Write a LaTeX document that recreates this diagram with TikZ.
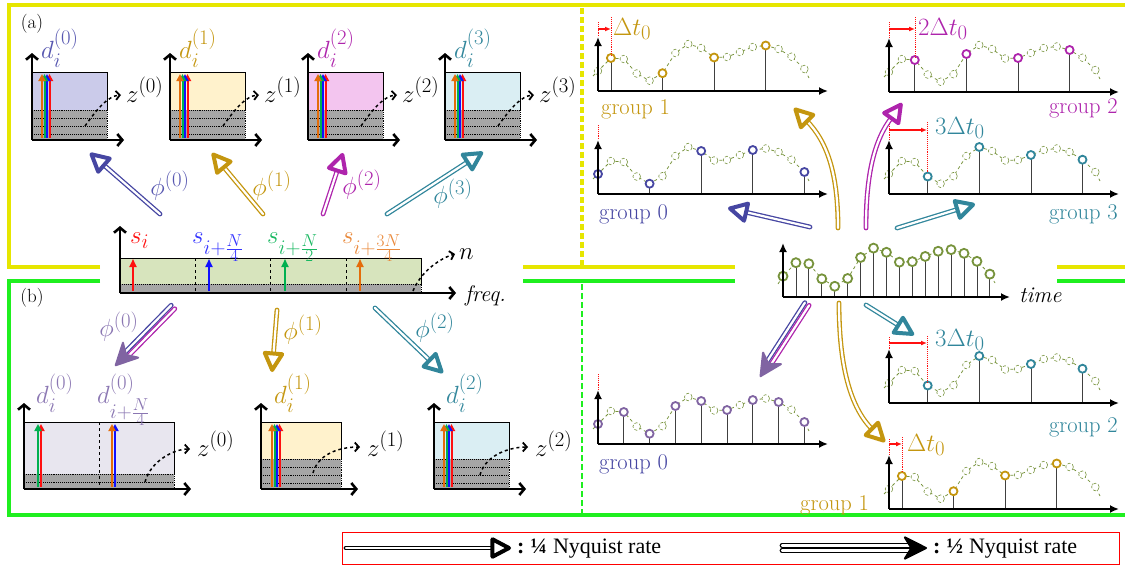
\documentclass[tikz,border=0pt]{standalone}
\usepackage{amsmath,amssymb}
\usepackage{fontspec}
\newfontfamily\legfont{Liberation Serif}
\usepackage{tikz}
\usetikzlibrary{arrows.meta,calc}
\definecolor{Yel}{HTML}{E6E600}
\definecolor{Grn}{HTML}{1FEF1F}
\definecolor{Slate}{HTML}{4646A2}
\definecolor{LabS}{HTML}{5656B0}
\definecolor{Gold}{HTML}{C4960F}
\definecolor{Mag}{HTML}{AE24AC}
\definecolor{Teal}{HTML}{31869B}
\definecolor{Purp}{HTML}{8064A2}
\definecolor{LabP}{HTML}{8A76B2}
\definecolor{Olive}{HTML}{77933C}
\definecolor{Lav}{HTML}{CBCBEA}
\definecolor{Cream}{HTML}{FFF2CC}
\definecolor{Pink}{HTML}{F3C5EF}
\definecolor{Ice}{HTML}{DAEEF3}
\definecolor{PaleLav}{HTML}{E8E6EF}
\definecolor{Sage}{HTML}{D7E4BD}
\definecolor{Gry}{HTML}{A6A6A6}
\definecolor{Rd}{HTML}{FF1010}
\definecolor{Bl}{HTML}{1010FF}
\definecolor{Gn}{HTML}{00B050}
\definecolor{Or}{HTML}{E46C0A}

% the sampled signal (height of each sample above the axis)
\def\sigvals{20,33,32,17.5,10.3,17.8,38,47,43,33.5,34,39,44,45.5,42,34.3,22}

% one coset of the signal: origin x, origin y, kept samples, colour
\newcommand{\subsig}[4]{%
  \draw[wave] ({#1-5},{#2-15}) \foreach \a [count=\k from 0] in \sigvals {-- ({#1+12.9*\k},{#2-\a})} -- ({#1+211},{#2-13});
  \foreach \a [count=\k from 0] in \sigvals
    \draw[wdot] ({#1+12.9*\k},{#2-\a}) circle (3.8pt);
  \foreach \k in {#3} {
    \pgfmathsetmacro\amp{{\sigvals}[\k]}
    \draw[stem] ({#1+12.9*\k},#2) -- ({#1+12.9*\k},{#2-\amp});
    \draw[samp=#4] ({#1+12.9*\k},{#2-\amp}) circle (4pt);
  }
  \draw[tax] (#1,#2) -- (#1,{#2-54});
  \draw[tax] (#1,#2) -- ({#1+230},#2);}

% spectrum box: x, bottom, top, top of gray part, width, fill, dotted rows
\newcommand{\dpanel}[7]{%
  \fill[#6] (#1,#3) rectangle ({#1+#5},#2);
  \fill[Gry] (#1,#4) rectangle ({#1+#5},#2);
  \draw[line width=0.7pt] (#1,#4) -- (#1,#3) -- ({#1+#5},#3) -- ({#1+#5},#4);
  \foreach \yy in {#7}
    \draw[gdot] (#1,\yy) -- ({#1+#5},\yy);
  \draw[gdot] ({#1+#5},#4) -- ({#1+#5},#2);
  \draw[dax] (#1,#2) -- (#1,{#3-19});
  \draw[dax] (#1,#2) -- ({#1+#5+17},#2);}

% bundle of aliased components
\newcommand{\rbow}[3]{%
  \foreach \dx/\c in {7.5/Rd,5/Bl,2.5/Gn,0/Or}
    \draw[\c, line width=2pt, -{Triangle[length=7pt,width=7pt]}] ({#1+\dx},{#2-2}) -- ({#1+\dx},#3);}

% 1/4 rate arrow: colour, from, to
\newcommand{\qarrow}[3]{%
  \draw[qshaft=#1] (#2) -- ($(#3)!15pt!(#2)$);
  \draw[qhead=#1] ($(#3)!20pt!(#2)$) -- (#3);}

% 1/2 rate arrow: from, to, head colour, two line colours
\newcommand{\harrow}[5]{%
  \coordinate (hb) at ($(#2)!15pt!(#1)$);
  \draw[qshaft=#4] ($(#1)!2.5pt!-90:(hb)$) -- ($(hb)!2.5pt!90:(#1)$);
  \draw[qshaft=#5] ($(#1)!2.5pt!90:(hb)$) -- ($(hb)!2.5pt!-90:(#1)$);
  \draw[hhead=#3] ($(#2)!18pt!(#1)$) -- (#2);}

\begin{document}
\begin{tikzpicture}[x=1pt,y=-1pt,
  dax/.style={line width=2.6pt, -{Straight Barb[length=5pt,width=12pt,line width=2.6pt]}},
  tax/.style={line width=2pt, -{Latex[length=9pt,width=8pt]}},
  zarr/.style={dashed, line width=1.5pt, -{Straight Barb[length=4pt,width=9pt,line width=1.8pt]}},
  gdot/.style={densely dotted, line width=0.9pt},
  qshaft/.style={draw=#1, line width=1.3pt, double=white, double distance=2.2pt, line cap=round},
  qhead/.style={#1, line width=4pt, -{Triangle[fill=white,length=23pt,width=23pt,line width=4pt,round]}},
  hhead/.style={#1, line width=2pt, -{Stealth[length=26pt,width=26pt,inset=8pt,line width=2pt,round]}},
  mlab/.style={font=\fontsize{24.88}{28}\selectfont, inner sep=0pt},
  glab/.style={font=\fontsize{22.5}{26}\selectfont, inner sep=0pt},
  legtext/.style={font=\legfont\fontsize{22}{24}\selectfont, inner sep=0pt},
  wave/.style={Olive, dashed, line width=0.8pt},
  wdot/.style={Olive, densely dashed, line width=0.6pt, fill=white},
  samp/.style={#1, line width=1.8pt, fill=white},
  stem/.style={black!75, line width=0.8pt},
  rline/.style={Rd, line width=1.2pt, -{Latex[length=6pt,width=5pt]}},
  rdot/.style={Rd, densely dotted, line width=0.9pt}]
\useasboundingbox (0,0) rectangle (1125,570);

% frames of (a) and (b)
\draw[Yel, line width=4pt] (100,267) -- (9,267) -- (9,5) -- (1125,5);
\draw[Yel, line width=4pt] (523,267) -- (735,267) (1057,267) -- (1125,267);
\draw[Grn, line width=4pt] (100,281) -- (9,281) -- (9,515) -- (1125,515);
\draw[Grn, line width=4pt] (523,281) -- (735,281) (1057,281) -- (1125,281);
\draw[Yel, line width=3.5pt, dash pattern=on 6pt off 3pt] (582,8) -- (582,265);
\draw[Grn, line width=2.5pt, dash pattern=on 6pt off 3pt] (582,284) -- (582,513);
\node[font=\fontsize{19}{21}\selectfont, inner sep=0pt] (la) at (32,24) {(a)};
\node[font=\fontsize{19}{21}\selectfont, inner sep=0pt] (lb) at (32,298) {(b)};

% (a) spectra after 1/4 rate sampling
\foreach \x/\f/\c/\k in {32/Lav/LabS/0,170/Cream/Gold/1,308/Pink/Mag/2,445/Ice/Teal/3} {
  \dpanel{\x}{140}{72}{110}{75}{\f}{110,118,126,134}
  \rbow{\x+10}{140}{74}
  \coordinate (zs\k) at (\x+53,126);
  \coordinate (ze\k) at (\x+89,95);
  \draw[zarr] (zs\k) .. controls +(12,-17) and +(-13,1) .. (ze\k);
  \node[mlab, text=\c, anchor=base west] (d\k) at (\x+9,58) {$d_i^{(\k)}$};
  \node[mlab, anchor=base west] (z\k) at (\x+94,102) {$z^{(\k)}$};
}

% original spectrum
\fill[Sage] (120,258) rectangle (421,293);
\fill[Gry] (120,284) rectangle (421,293);
\draw[line width=0.7pt] (120,258) -- (421,258) -- (421,284);
\draw[gdot] (120,284) -- (421,284) -- (421,293);
\foreach \x in {195,270,346}
  \draw[dashed, line width=0.9pt] (\x,258) -- (\x,293);
\foreach \x/\c in {133/Rd,209/Bl,285/Gn,360/Or}
  \draw[\c, line width=1.8pt, -{Triangle[length=8pt,width=7pt]}] (\x,291) -- (\x,259);
\draw[dax] (120,293) -- (120,226);
\draw[dax] (120,293) -- (456,293);
\coordinate (ns) at (413,291);
\coordinate (ne) at (455,254);
\draw[zarr] (ns) .. controls +(8,-20) and +(-14,4) .. (ne);
\node[mlab, text=Rd, anchor=base west] (s0) at (130,243) {$s_i$};
\node[mlab, text=Bl!85, anchor=base west] (s1) at (192,243) {$s_{i+\frac{N}{4}}$};
\node[mlab, text=Gn!90, anchor=base west] (s2) at (267,243) {$s_{i+\frac{N}{2}}$};
\node[mlab, text=Or!80, anchor=base west] (s3) at (342,243) {$s_{i+\frac{3N}{4}}$};
\node[mlab, anchor=base west] (nn) at (459,259) {$n$};
\node[glab, anchor=base west] (fq) at (465,301) {\itshape freq.};

% (a) phi arrows
\foreach \c/\fx/\fy/\tx/\ty/\k in {Slate/160/214/90/153/0,Gold/263/214/212/153/1,Mag/323/214/343/153/2,Teal/387/214/483/152/3} {
  \coordinate (pf\k) at (\fx,\fy);
  \coordinate (pt\k) at (\tx,\ty);
  \qarrow{\c}{pf\k}{pt\k}
}
\node[mlab, text=LabS] (p0) at (170,186) {$\phi^{(0)}$};
\node[mlab, text=Gold] (p1) at (272,186) {$\phi^{(1)}$};
\node[mlab, text=Mag] (p2) at (362,185) {$\phi^{(2)}$};
\node[mlab, text=Teal] (p3) at (453,194) {$\phi^{(3)}$};

% (b) spectra after mixed rate sampling
\dpanel{24}{489}{422}{474}{150}{PaleLav}{474,482}
\draw[dashed, line width=0.9pt] (99,422) -- (99,489);
\foreach \x/\c in {41/Rd,38/Gn,115/Bl,112/Or}
  \draw[\c, line width=2.2pt, -{Triangle[length=7pt,width=7pt]}] (\x,487) -- (\x,424);
\dpanel{261}{489}{422}{459}{80}{Cream}{459,467,475,483}
\rbow{272}{489}{424}
\dpanel{434}{489}{422}{459}{75}{Ice}{459,467,475,483}
\rbow{444}{489}{424}
\foreach \sx/\sy/\ex/\ey/\k in {145/482/190/449/0,313/473/360/447/1,480/475/528/447/2} {
  \coordinate (ys\k) at (\sx,\sy);
  \coordinate (ye\k) at (\ex,\ey);
  \draw[zarr] (ys\k) .. controls +(6,-22) and +(-15,0) .. (ye\k);
}
\node[mlab, text=LabP, anchor=base west] (db0) at (36,403) {$d_i^{(0)}$};
\node[mlab, text=LabP, anchor=base west] (db4) at (97,403) {$d_{i+\frac{N}{4}}^{(0)}$};
\node[mlab, text=Gold, anchor=base west] (db1) at (274,403) {$d_i^{(1)}$};
\node[mlab, text=Teal, anchor=base west] (db2) at (446,403) {$d_i^{(2)}$};
\node[mlab, anchor=base west] (zb0) at (197,456) {$z^{(0)}$};
\node[mlab, anchor=base west] (zb1) at (367,456) {$z^{(1)}$};
\node[mlab, anchor=base west] (zb2) at (535,456) {$z^{(2)}$};

% (b) phi arrows
\coordinate (qf0) at (173,307); \coordinate (qt0) at (115,366);
\harrow{qf0}{qt0}{Purp}{Slate}{Mag}
\coordinate (qf1) at (277,310); \coordinate (qt1) at (272,372);
\qarrow{Gold}{qf1}{qt1}
\coordinate (qf2) at (375,308); \coordinate (qt2) at (443,373);
\qarrow{Teal}{qf2}{qt2}
\node[mlab, text=LabP] (q0) at (119,327) {$\phi^{(0)}$};
\node[mlab, text=Gold] (q1) at (303,330) {$\phi^{(1)}$};
\node[mlab, text=Teal] (q2) at (435,328) {$\phi^{(2)}$};

% full rate signal
\draw[wave] (778,284) \foreach \a [count=\k from 0] in \sigvals {-- ({783+12.93*\k},{297-1.04*\a})} -- (995,283);
\foreach \a [count=\k from 0] in \sigvals {
  \draw[stem] ({783+12.93*\k},297) -- ({783+12.93*\k},{297-1.04*\a});
  \draw[samp=Olive] ({783+12.93*\k},{297-1.04*\a}) circle (4.5pt);
}
\draw[tax] (783,297) -- (783,243);
\draw[tax] (783,297) -- (1010,297);
\node[glab, anchor=base west] (tm) at (1019,302) {\itshape time};

% cosets, (a)
\subsig{598}{91}{1,5,9,13}{Gold}
\subsig{598}{194}{0,4,8,12,16}{Slate}
\subsig{889}{92}{2,6,10,14}{Mag}
\subsig{889}{194}{3,7,11,15}{Teal}
% cosets, (b)
\subsig{598}{444}{0,2,...,16}{Purp}
\subsig{889}{403}{3,7,11,15}{Teal}
\subsig{889}{509}{1,5,9,13}{Gold}

% delays
\draw[rdot] (598,22) -- (598,37);
\draw[rdot] (611,17) -- (611,56);
\draw[rline] (598,29) -- (611,29);
\draw[rdot] (889,22) -- (889,38);
\draw[rdot] (915,17) -- (915,57);
\draw[rline] (889,29) -- (915,29);
\draw[rdot] (598,125) -- (598,140);
\draw[rdot] (889,124) -- (889,140);
\draw[rdot] (927,122) -- (927,172);
\draw[rline] (889,130) -- (927,130);
\draw[rdot] (889,337) -- (889,349);
\draw[rdot] (927,336) -- (927,382);
\draw[rline] (889,343) -- (927,343);
\draw[rdot] (889,439) -- (889,455);
\draw[rdot] (902,437) -- (902,473);
\draw[rline] (889,444) -- (902,444);
\draw[rdot] (598,374) -- (598,390);

\node[mlab, text=Gold, anchor=base west] (dt1a) at (613,35) {$\Delta t_0$};
\node[mlab, text=Mag, anchor=base west] (dt2a) at (918,35) {$2\Delta t_0$};
\node[mlab, text=Teal, anchor=base west] (dt3a) at (935,134) {$3\Delta t_0$};
\node[mlab, text=Teal, anchor=base west] (dt3b) at (935,346) {$3\Delta t_0$};
\node[mlab, text=Gold, anchor=base west] (dt1b) at (907,451) {$\Delta t_0$};

\node[glab, text=Gold, anchor=base west] (g1a) at (601,114) {group 1};
\node[glab, text=Slate, anchor=base west] (g0a) at (599,219) {group 0};
\node[glab, text=Mag, anchor=base east] (g2a) at (1118,113) {group 2};
\node[glab, text=Teal, anchor=base east] (g3a) at (1118,219) {group 3};
\node[glab, text=Slate, anchor=base west] (g0b) at (599,469) {group 0};
\node[glab, text=Teal, anchor=base east] (g2b) at (1118,432) {group 2};
\node[glab, text=Gold, anchor=base west] (g1b) at (800,510) {group 1};

% arrows from the full rate signal, (a)
\coordinate (ra0) at (810,227); \coordinate (rt0) at (728,208);
\qarrow{Slate}{ra0}{rt0}
\coordinate (ra1) at (838,228); \coordinate (rb1) at (806,120); \coordinate (rt1) at (794,108);
\draw[qshaft=Gold] (ra1) .. controls (838,175) and (828,142) .. (rb1);
\draw[qhead=Gold] (rb1) -- (rt1);
\coordinate (ra2) at (866,228); \coordinate (rb2) at (892,117); \coordinate (rt2) at (902,103);
\draw[qshaft=Mag] (ra2) .. controls (866,175) and (874,140) .. (rb2);
\draw[qhead=Mag] (rb2) -- (rt2);
\coordinate (ra3) at (897,228); \coordinate (rt3) at (975,204);
\qarrow{Teal}{ra3}{rt3}

% arrows from the full rate signal, (b)
\coordinate (rc0) at (807,304); \coordinate (rd0) at (760,377);
\harrow{rc0}{rd0}{Purp}{Slate}{Mag}
\coordinate (rc1) at (839,303); \coordinate (rb4) at (873,430); \coordinate (rd1) at (885,442);
\draw[qshaft=Gold] (rc1) .. controls (839,365) and (850,408) .. (rb4);
\draw[qhead=Gold] (rb4) -- (rd1);
\coordinate (rc2) at (866,305); \coordinate (rd2) at (914,335);
\qarrow{Teal}{rc2}{rd2}

% legend
\draw[red, line width=0.9pt] (342,532) rectangle (1119,564);
\coordinate (l1s) at (346,548); \coordinate (l1t) at (511,548);
\qarrow{black}{l1s}{l1t}
\node[legtext, anchor=west] (l1) at (517,549) {\textbf{:}\hspace{6pt}\textbf{¼}\hspace{6pt}Nyquist rate};
\coordinate (l2s) at (782,548); \coordinate (l2t) at (927,548);
\harrow{l2s}{l2t}{black}{black}{black}
\node[legtext, anchor=west] (l2) at (933,549) {\textbf{:}\hspace{6pt}\textbf{½}\hspace{6pt}Nyquist rate};
\end{tikzpicture}
\end{document}
